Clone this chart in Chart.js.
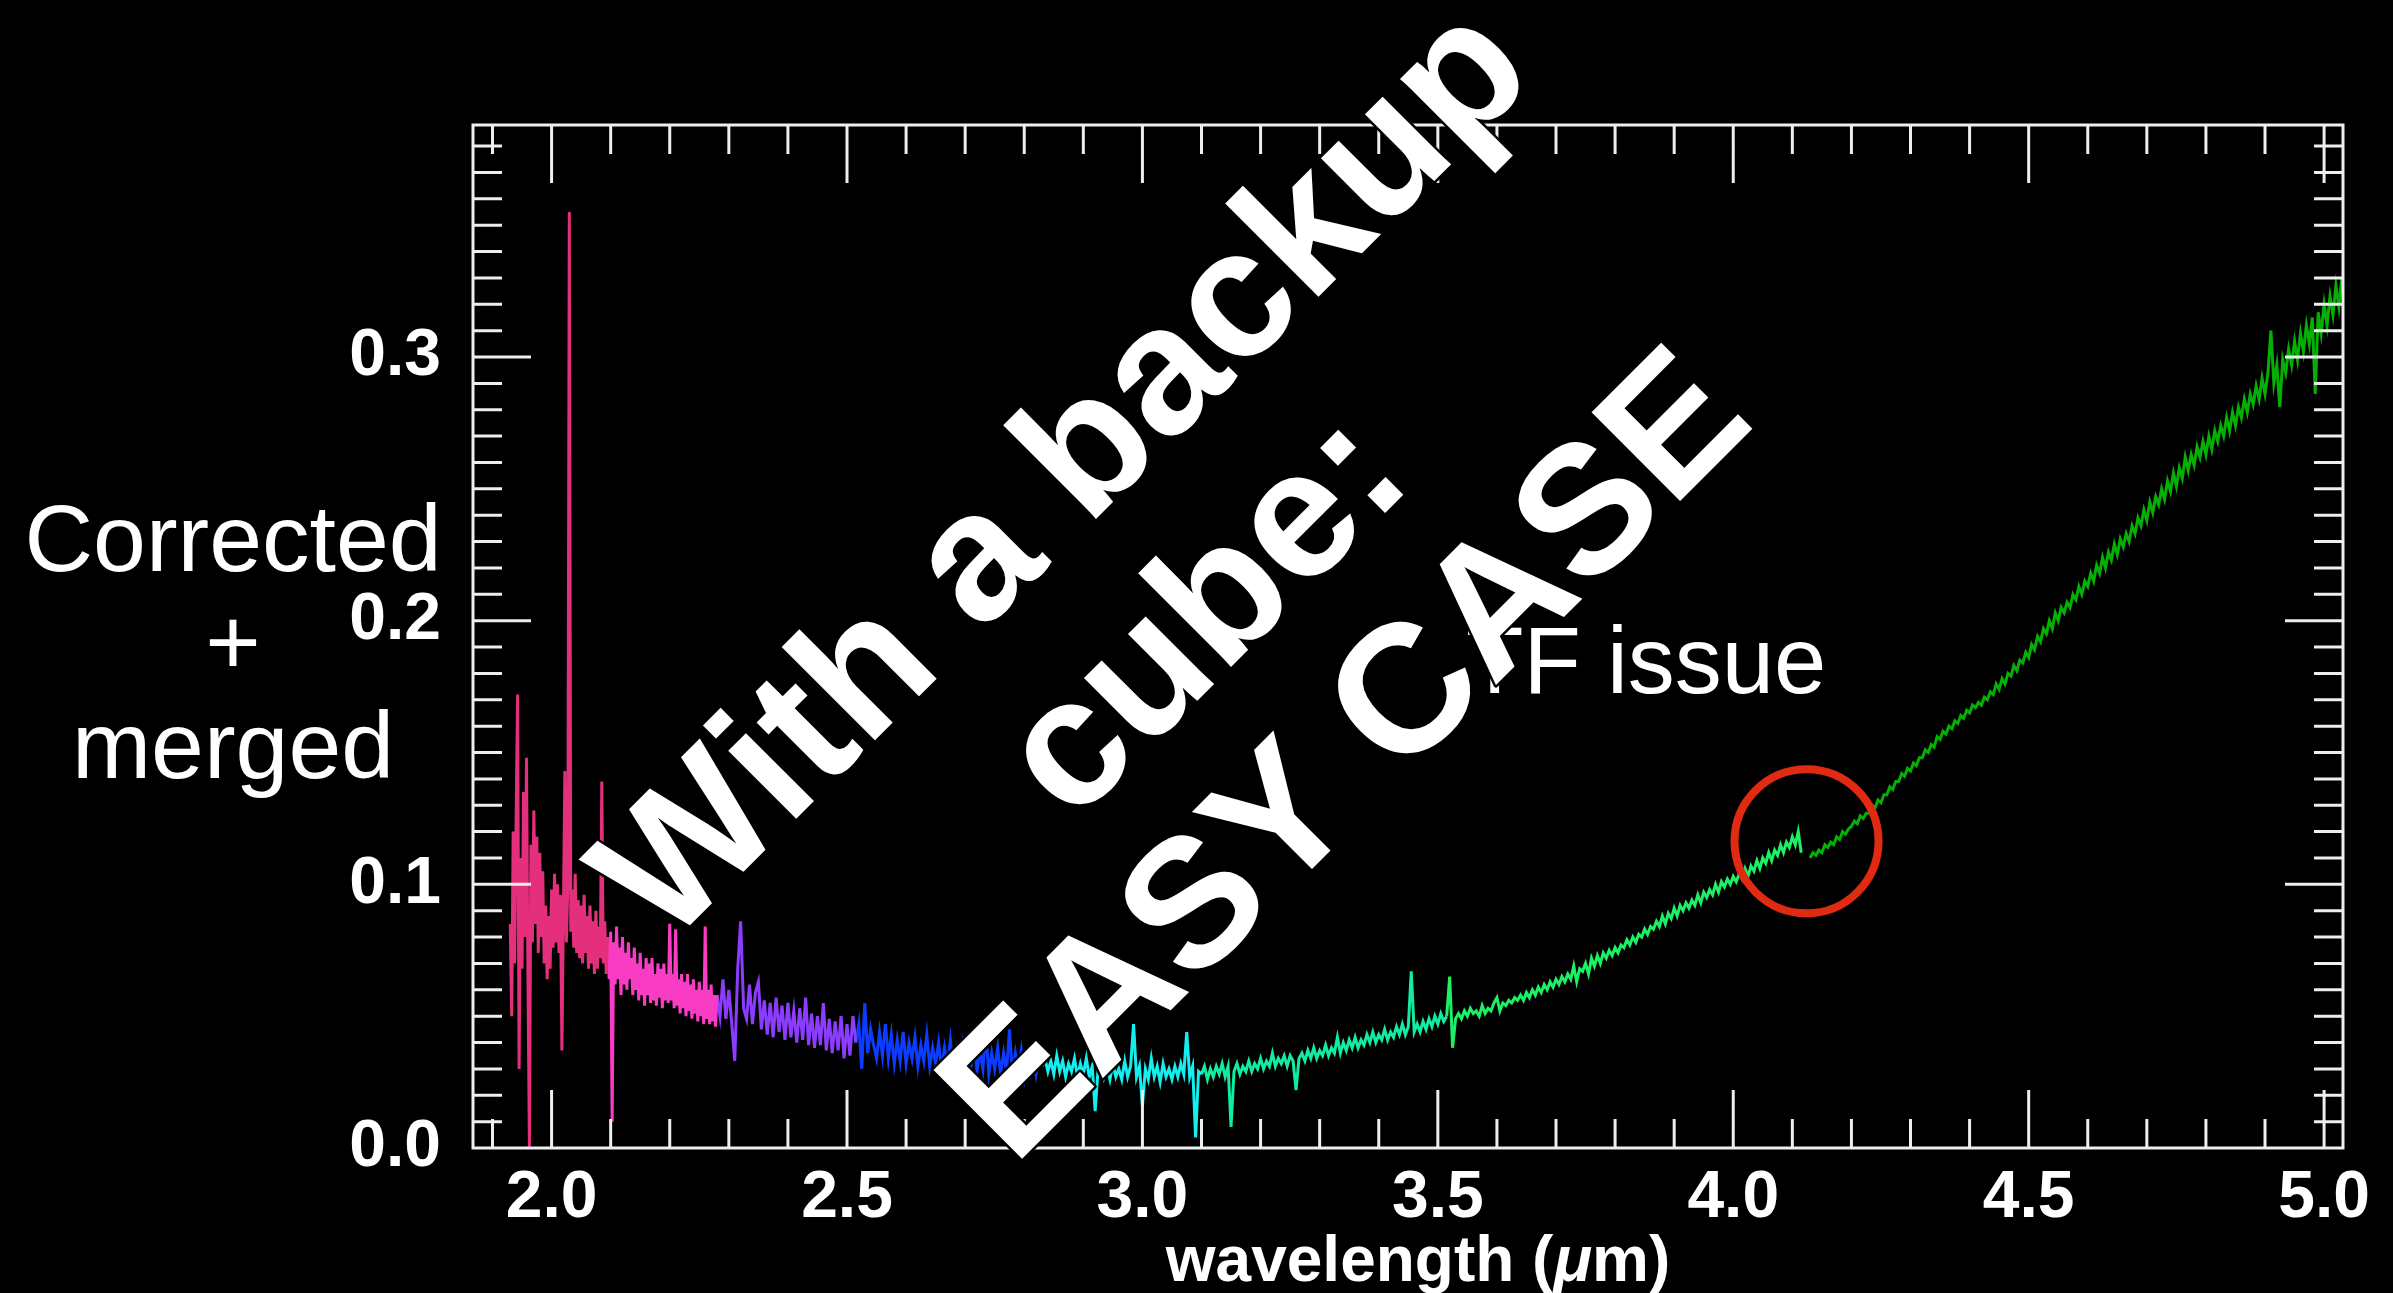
<!DOCTYPE html>
<html>
<head>
<meta charset="utf-8">
<script src="https://cdn.jsdelivr.net/npm/chart.js@4.4.1/dist/chart.umd.min.js"></script>
<style>
  html, body { margin: 0; padding: 0; background: #000; }
  canvas { display: block; }
</style>
</head>
<body>
<canvas id="myChart" width="2393" height="1293"></canvas>
<script>
// wavelength grid: every segment starts at segStart and is sampled every segStep um
var segStart = [1.93, 2.095, 2.28, 2.515, 2.83, 3.1, 3.515, 4.13];
var segStep = [0.0025, 0.0025, 0.005, 0.005, 0.005, 0.005, 0.005, 0.005];
var segColor = ["#e4307c", "#f83cc4", "#8c3cff", "#0c3cff", "#14eeee", "#12eca0", "#1cf064", "#05b005"];

// flux, one array per coloured piece
var flux1 = [
  0.085, 0.050, 0.120, 0.070, 0.125, 0.172, 0.030, 0.110, 0.068, 0.135,
  0.080, 0.148, 0.065, 0.000, 0.115, 0.078, 0.128, 0.085, 0.118, 0.074,
  0.112, 0.080, 0.105, 0.070, 0.092, 0.064, 0.088, 0.068, 0.098, 0.076,
  0.104, 0.078, 0.100, 0.074, 0.096, 0.037, 0.090, 0.143, 0.078, 0.100,
  0.355, 0.082, 0.098, 0.076, 0.104, 0.074, 0.094, 0.072, 0.092, 0.070,
  0.096, 0.074, 0.088, 0.068, 0.092, 0.070, 0.086, 0.066, 0.090, 0.068,
  0.084, 0.072, 0.139, 0.070, 0.086, 0.066, 0.080
];
var flux2 = [
  0.080, 0.064, 0.082, 0.010, 0.078, 0.062, 0.084, 0.064, 0.076, 0.058,
  0.080, 0.062, 0.074, 0.060, 0.078, 0.064, 0.072, 0.058, 0.076, 0.060,
  0.070, 0.056, 0.074, 0.058, 0.068, 0.054, 0.072, 0.058, 0.070, 0.055,
  0.072, 0.056, 0.066, 0.054, 0.070, 0.057, 0.068, 0.053, 0.070, 0.056,
  0.066, 0.055, 0.085, 0.056, 0.066, 0.053, 0.083, 0.054, 0.064, 0.051,
  0.066, 0.053, 0.063, 0.050, 0.066, 0.052, 0.062, 0.049, 0.064, 0.051,
  0.060, 0.048, 0.063, 0.050, 0.060, 0.047, 0.084, 0.049, 0.060, 0.047,
  0.062, 0.048, 0.058, 0.046, 0.058
];
var flux3 = [
  0.058, 0.050, 0.064, 0.049, 0.060, 0.047, 0.033, 0.068, 0.086, 0.053,
  0.049, 0.062, 0.047, 0.059, 0.063, 0.045, 0.056, 0.043, 0.055, 0.042,
  0.057, 0.044, 0.054, 0.041, 0.055, 0.042, 0.052, 0.040, 0.053, 0.041,
  0.057, 0.039, 0.051, 0.038, 0.050, 0.039, 0.055, 0.037, 0.049, 0.036,
  0.048, 0.037, 0.050, 0.034, 0.047, 0.035, 0.050, 0.040
];
var flux4 = [
  0.040, 0.047, 0.030, 0.055, 0.036, 0.045, 0.039, 0.034, 0.044, 0.035,
  0.047, 0.034, 0.043, 0.032, 0.041, 0.033, 0.044, 0.032, 0.040, 0.034,
  0.042, 0.031, 0.039, 0.033, 0.043, 0.031, 0.038, 0.032, 0.040, 0.030,
  0.038, 0.031, 0.041, 0.030, 0.037, 0.031, 0.039, 0.029, 0.037, 0.031,
  0.041, 0.029, 0.037, 0.030, 0.044, 0.028, 0.036, 0.030, 0.038, 0.028,
  0.036, 0.029, 0.045, 0.028, 0.036, 0.029, 0.037, 0.027, 0.035, 0.029,
  0.037, 0.028, 0.034, 0.031
];
var flux5 = [
  0.031, 0.034, 0.029, 0.033, 0.028, 0.035, 0.029, 0.033, 0.027, 0.032,
  0.029, 0.034, 0.027, 0.032, 0.028, 0.034, 0.027, 0.031, 0.014, 0.030,
  0.033, 0.027, 0.031, 0.026, 0.032, 0.027, 0.030, 0.026, 0.033, 0.027,
  0.031, 0.047, 0.027, 0.031, 0.016, 0.030, 0.026, 0.034, 0.027, 0.031,
  0.025, 0.032, 0.027, 0.030, 0.026, 0.031, 0.027, 0.032, 0.028, 0.044,
  0.027, 0.031, 0.004, 0.029, 0.028
];
var flux6 = [
  0.028, 0.031, 0.026, 0.030, 0.027, 0.031, 0.028, 0.032, 0.027, 0.031,
  0.008, 0.029, 0.032, 0.028, 0.031, 0.029, 0.033, 0.029, 0.032, 0.030,
  0.034, 0.030, 0.033, 0.031, 0.036, 0.031, 0.034, 0.032, 0.035, 0.031,
  0.035, 0.033, 0.022, 0.034, 0.036, 0.033, 0.037, 0.034, 0.038, 0.034,
  0.037, 0.035, 0.039, 0.035, 0.038, 0.036, 0.042, 0.036, 0.040, 0.037,
  0.041, 0.038, 0.042, 0.038, 0.041, 0.039, 0.043, 0.040, 0.044, 0.040,
  0.043, 0.041, 0.045, 0.041, 0.044, 0.042, 0.046, 0.043, 0.047, 0.043,
  0.046, 0.067, 0.044, 0.047, 0.044, 0.048, 0.045, 0.049, 0.046, 0.050,
  0.047, 0.051, 0.048, 0.050
];
var flux7 = [
  0.050, 0.065, 0.038, 0.049, 0.051, 0.049, 0.052, 0.050, 0.053, 0.051,
  0.052, 0.050, 0.054, 0.051, 0.053, 0.052, 0.055, 0.057, 0.052, 0.055,
  0.054, 0.056, 0.055, 0.057, 0.056, 0.058, 0.056, 0.059, 0.057, 0.060,
  0.058, 0.061, 0.059, 0.062, 0.060, 0.063, 0.061, 0.064, 0.062, 0.065,
  0.063, 0.066, 0.064, 0.069, 0.063, 0.068, 0.067, 0.070, 0.066, 0.072,
  0.069, 0.073, 0.070, 0.074, 0.072, 0.075, 0.073, 0.076, 0.074, 0.077,
  0.076, 0.079, 0.077, 0.080, 0.078, 0.081, 0.080, 0.083, 0.081, 0.084,
  0.083, 0.086, 0.084, 0.088, 0.085, 0.089, 0.087, 0.091, 0.088, 0.092,
  0.090, 0.093, 0.091, 0.094, 0.092, 0.096, 0.093, 0.097, 0.095, 0.098,
  0.096, 0.100, 0.097, 0.101, 0.099, 0.102, 0.100, 0.103, 0.101, 0.104,
  0.102, 0.106, 0.103, 0.107, 0.105, 0.109, 0.106, 0.110, 0.108, 0.112,
  0.109, 0.113, 0.111, 0.115, 0.112, 0.116, 0.114, 0.118, 0.115, 0.120,
  0.112
];
var flux8 = [
  0.110, 0.112, 0.111, 0.113, 0.112, 0.115, 0.114, 0.116, 0.115, 0.118,
  0.117, 0.120, 0.119, 0.121, 0.122, 0.124, 0.123, 0.126, 0.125, 0.127,
  0.127, 0.130, 0.129, 0.132, 0.131, 0.134, 0.134, 0.137, 0.136, 0.139,
  0.139, 0.142, 0.141, 0.144, 0.143, 0.146, 0.145, 0.148, 0.148, 0.151,
  0.150, 0.153, 0.152, 0.156, 0.155, 0.158, 0.157, 0.160, 0.159, 0.162,
  0.161, 0.164, 0.163, 0.166, 0.165, 0.168, 0.167, 0.169, 0.168, 0.171,
  0.170, 0.173, 0.172, 0.176, 0.174, 0.178, 0.176, 0.180, 0.179, 0.183,
  0.181, 0.185, 0.184, 0.188, 0.186, 0.191, 0.189, 0.194, 0.192, 0.197,
  0.195, 0.200, 0.197, 0.203, 0.200, 0.205, 0.203, 0.207, 0.205, 0.210,
  0.208, 0.213, 0.210, 0.215, 0.213, 0.218, 0.215, 0.221, 0.218, 0.224,
  0.220, 0.226, 0.223, 0.229, 0.225, 0.231, 0.228, 0.233, 0.230, 0.236,
  0.233, 0.239, 0.236, 0.242, 0.238, 0.245, 0.241, 0.247, 0.244, 0.250,
  0.246, 0.253, 0.249, 0.256, 0.251, 0.258, 0.254, 0.262, 0.257, 0.263,
  0.259, 0.266, 0.262, 0.268, 0.263, 0.270, 0.265, 0.272, 0.268, 0.274,
  0.270, 0.277, 0.272, 0.279, 0.274, 0.281, 0.277, 0.284, 0.279, 0.286,
  0.282, 0.289, 0.284, 0.292, 0.286, 0.294, 0.310, 0.290, 0.297, 0.281,
  0.299, 0.294, 0.303, 0.297, 0.306, 0.299, 0.309, 0.302, 0.312, 0.305,
  0.315, 0.286, 0.317, 0.309, 0.320, 0.312, 0.323, 0.316, 0.327, 0.319,
  0.330
];
var fluxes = [flux1, flux2, flux3, flux4, flux5, flux6, flux7, flux8];

var xTicks = [2.0, 2.5, 3.0, 3.5, 4.0, 4.5, 5.0];
var yTicks = [0.0, 0.1, 0.2, 0.3];

var datasets = fluxes.map((f, i) => ({
  data: f.map((v, j) => ({ x: +(segStart[i] + j * segStep[i]).toFixed(4), y: v })),
  borderColor: segColor[i],
  borderWidth: 3,
  pointRadius: 0,
  tension: 0,
}));

var FONT = "'Liberation Sans', Arial, Helvetica, sans-serif";

// frame with inward major/minor ticks on all four sides, plus the slide annotations
var decorations = {
  id: "decorations",
  afterDraw(chart) {
    var ctx = chart.ctx;
    var a = chart.chartArea;
    var x = chart.scales.x, y = chart.scales.y;
    ctx.save();
    ctx.strokeStyle = "#eeeeee";
    ctx.lineWidth = 3;
    ctx.strokeRect(a.left, a.top, a.right - a.left, a.bottom - a.top);
    ctx.beginPath();
    for (var i = 19; i <= 50; i++) {
      var px = x.getPixelForValue(i / 10);
      var len = i % 5 === 0 ? 58 : 29;
      ctx.moveTo(px, a.bottom); ctx.lineTo(px, a.bottom - len);
      ctx.moveTo(px, a.top); ctx.lineTo(px, a.top + len);
    }
    for (var k = 1; k <= 38; k++) {
      var py = y.getPixelForValue(k / 100);
      var len2 = k % 10 === 0 ? 58 : 29;
      ctx.moveTo(a.left, py); ctx.lineTo(a.left + len2, py);
      ctx.moveTo(a.right, py); ctx.lineTo(a.right - len2, py);
    }
    ctx.stroke();

    // x axis title, with an italic mu as in the original
    ctx.fillStyle = "#ffffff";
    ctx.textBaseline = "alphabetic";
    ctx.textAlign = "left";
    var parts = [["wavelength (", "bold"], ["μ", "italic bold"], ["m)", "bold"]];
    var total = 0;
    parts.forEach((p) => { ctx.font = p[1] + " 64px " + FONT; total += ctx.measureText(p[0]).width; });
    var tx = 1418 - total / 2;
    parts.forEach((p) => {
      ctx.font = p[1] + " 64px " + FONT;
      ctx.fillText(p[0], tx, 1281);
      tx += ctx.measureText(p[0]).width;
    });

    ctx.textAlign = "center";
    ctx.font = "95px " + FONT;
    ctx.fillText("Corrected", 233, 571);
    ctx.fillText("+", 233, 674);
    ctx.fillText("merged", 233, 778);

    ctx.textAlign = "left";
    ctx.font = "94px " + FONT;
    ctx.fillText("TF issue", 1466, 693);

    ctx.strokeStyle = "#e02a12";
    ctx.lineWidth = 8;
    ctx.beginPath();
    ctx.arc(x.getPixelForValue(4.124), y.getPixelForValue(0.1163), 72, 0, Math.PI * 2);
    ctx.stroke();

    ctx.translate(1244, 654);
    ctx.rotate(-Math.PI / 4);
    ctx.textAlign = "center";
    ctx.font = "bold 182px " + FONT;
    ctx.lineJoin = "round";
    ctx.lineWidth = 5;
    ctx.strokeStyle = "#000000";
    var lines = ["With a backup", "cube:", "EASY CASE"];
    lines.forEach((t, n) => ctx.strokeText(t, 0, (n - 1) * 200));
    lines.forEach((t, n) => ctx.fillText(t, 0, (n - 1) * 200));
    ctx.restore();
  },
};

var ctx = document.getElementById("myChart").getContext("2d");
var myChart = new Chart(ctx, {
  type: "line",
  data: { datasets: datasets },
  options: {
    responsive: false,
    animation: false,
    layout: { padding: { left: 0, right: 50, top: 125, bottom: 0 } },
    plugins: { legend: { display: false }, tooltip: { enabled: false } },
    scales: {
      x: {
        type: "linear",
        min: 1.867,
        max: 5.032,
        afterFit: (s) => { s.height = 145; },
        afterBuildTicks: (s) => { s.ticks = xTicks.map((v) => ({ value: v })); },
        grid: { display: false },
        border: { display: false },
        ticks: {
          color: "#ffffff",
          font: { family: FONT, size: 66, weight: "bold" },
          padding: 3,
          maxRotation: 0,
          autoSkip: false,
          callback: (v) => Number(v).toFixed(1),
        },
      },
      y: {
        min: 0,
        max: 0.388,
        afterFit: (s) => { s.width = 473; },
        afterBuildTicks: (s) => { s.ticks = yTicks.map((v) => ({ value: v })); },
        grid: { display: false },
        border: { display: false },
        ticks: {
          color: "#ffffff",
          font: { family: FONT, size: 66, weight: "bold" },
          padding: 24,
          autoSkip: false,
          callback: (v) => Number(v).toFixed(1),
        },
      },
    },
  },
  plugins: [decorations],
});
</script>
</body>
</html>
